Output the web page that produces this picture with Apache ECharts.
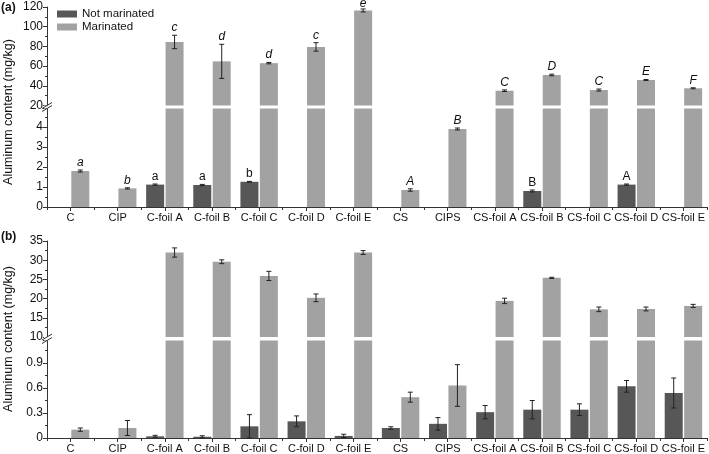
<!DOCTYPE html>
<html><head><meta charset="utf-8">
<script src="https://cdn.jsdelivr.net/npm/echarts@6/dist/echarts.min.js"></script>
<style>html,body{margin:0;padding:0;background:#fff}#c{width:709px;height:454px}</style>
</head><body><div id="c"></div><script>
const categories = ['C','CIP','C-foil A','C-foil B','C-foil C','C-foil D','C-foil E','CS','CIPS','CS-foil A','CS-foil B','CS-foil C','CS-foil D','CS-foil E'];
const seriesNames = ['Not marinated','Marinated'];
// Panel (a)
const aNotMar      = [null,null,1.12,1.1,1.26,null,null,null,null,null,0.8,null,1.12,null];
const aNotMarErr   = [null,null,0.03,0.03,0.02,null,null,null,null,null,0.05,null,0.03,null];
const aMar         = [1.8,0.93,84.5,64.8,63,79.5,116.5,0.85,3.9,35,51,35.7,45.9,37.5];
const aMarErr      = [0.05,0.03,6.8,17.3,0.7,4.3,1.5,0.06,0.05,0.8,0.8,1,0.5,0.5];
const aNotMarLetters = ['','','a','a','b','','','','','','B','','A',''];
const aMarLetters    = ['a','b','c','d','d','c','e','A','B','C','D','C','E','F'];
// Panel (b)
const bNotMar    = [null,null,0.02,0.015,0.14,0.2,0.025,0.12,0.17,0.31,0.34,0.34,0.62,0.54];
const bNotMarErr = [null,null,0.012,0.012,0.14,0.065,0.02,0.015,0.075,0.08,0.11,0.07,0.07,0.18];
const bMar       = [0.1,0.12,32,29.6,25.9,20.2,32,0.49,0.63,19.4,25.4,17.2,17.3,18.1];
const bMarErr    = [0.02,0.09,1.2,0.5,1.2,1.0,0.5,0.06,0.25,0.7,0.15,0.6,0.5,0.4];
// Axis segments (broken axes): [min, max, interval]
const aUpperAxis = [20, 120, 20];
const aLowerAxis = [0, 4.925, 1];
const bUpperAxis = [10, 35, 5];
const bLowerAxis = [0, 1.17, 0.3];
const yTitle = 'Aluminum content (mg/kg)';
const panelLabels = ['(a)', '(b)'];

const FONT = 'Liberation Sans, Arial, sans-serif';
const DARK = '#575757', LIGHT = '#a2a2a2', AXIS = '#333';
const BAR_W = 18, BAR_GAP = '8%';
const OFFSET = BAR_W / 2 + BAR_W * 0.04;

const grids = [
  {left: 47, width: 660, top: 7, height: 98.5},
  {left: 47, width: 660, top: 108.5, height: 98.5},
  {left: 47, width: 660, top: 241, height: 96},
  {left: 47, width: 660, top: 340.5, height: 97.5}
];
function xAx(g, show) {
  return {type: 'category', gridIndex: g, data: categories, show: show,
    axisLine: {show: true, lineStyle: {color: AXIS}},
    axisTick: {show: true, alignWithLabel: true, length: 4, lineStyle: {color: AXIS}},
    axisLabel: {fontSize: 11, color: '#111', margin: 5, fontFamily: FONT, interval: 0}};
}
function xAxB(g) {
  return {type: 'category', gridIndex: g, data: categories, position: 'bottom',
    axisLine: {show: false}, axisLabel: {show: false},
    axisTick: {show: true, alignWithLabel: false, length: 3, interval: 0, lineStyle: {color: AXIS}}};
}
function yAx(g, r) {
  return {type: 'value', gridIndex: g, min: r[0], max: r[1], interval: r[2],
    splitLine: {show: false},
    axisLine: {show: true, lineStyle: {color: AXIS}},
    axisTick: {show: true, length: 4, lineStyle: {color: AXIS}},
    minorTick: {show: true, splitNumber: 2, length: 2, lineStyle: {color: AXIS}},
    axisLabel: {fontSize: 12, color: '#111', margin: 4, fontFamily: FONT, showMaxLabel: r[1] % r[2] === 0}};
}
const ranges = [aUpperAxis, aLowerAxis, bUpperAxis, bLowerAxis];

function bar(name, g, vals, color) {
  return {type: 'bar', name: name, xAxisIndex: g, yAxisIndex: g, data: vals,
    barWidth: BAR_W, barGap: BAR_GAP, itemStyle: {color: color}, clip: true, animation: false};
}
function errSeries(g, vals, errs, letters, side, italic) {
  const r = ranges[g];
  const data = vals.map((v, i) => [i, v == null ? NaN : v, errs[i] == null ? 0 : errs[i], letters ? letters[i] : '']);
  return {type: 'custom', xAxisIndex: g, yAxisIndex: g, data: data, animation: false, silent: true, z: 5,
    renderItem: function (params, api) {
      const i = api.value(0), v = api.value(1), e = api.value(2);
      if (isNaN(v) || v < r[0] || v > r[1]) return null;
      const lab = data[params.dataIndex][3];
      const top = api.coord([i, v + e]);
      const bot = api.coord([i, Math.max(v - e, r[0])]);
      const x = top[0] + side * OFFSET;
      const children = [];
      if (e > 0) {
        const sty = {stroke: '#222', lineWidth: 1};
        children.push({type: 'line', shape: {x1: x, y1: top[1], x2: x, y2: bot[1]}, style: sty});
        children.push({type: 'line', shape: {x1: x - 2.5, y1: top[1], x2: x + 2.5, y2: top[1]}, style: sty});
        if (v - e >= r[0]) children.push({type: 'line', shape: {x1: x - 2.5, y1: bot[1], x2: x + 2.5, y2: bot[1]}, style: sty});
      }
      if (lab) {
        children.push({type: 'text', x: x, y: Math.max(top[1] - 1.5, 10), style: {text: lab, fill: '#111',
          font: (italic ? 'italic ' : '') + '12px ' + FONT, align: 'center', verticalAlign: 'bottom'}});
      }
      return {type: 'group', children: children};
    }};
}

const series = [];
const panels = [
  {g: [0, 1], nm: aNotMar, nmE: aNotMarErr, m: aMar, mE: aMarErr, nmL: aNotMarLetters, mL: aMarLetters},
  {g: [2, 3], nm: bNotMar, nmE: bNotMarErr, m: bMar, mE: bMarErr, nmL: null, mL: null}
];
panels.forEach(p => {
  p.g.forEach(g => {
    series.push(bar(seriesNames[0], g, p.nm, DARK));
    series.push(bar(seriesNames[1], g, p.m, LIGHT));
    series.push(errSeries(g, p.nm, p.nmE, p.nmL, -1, false));
    series.push(errSeries(g, p.m, p.mE, p.mL, 1, true));
  });
});

function breakMark(yTopGap, yBotGap) {
  return [
    {type: 'rect', shape: {x: 44, y: yTopGap, width: 6, height: yBotGap - yTopGap}, style: {fill: '#fff'}, z: 100},
    {type: 'line', shape: {x1: 42, y1: yTopGap + 3, x2: 52, y2: yTopGap - 3}, style: {stroke: AXIS, lineWidth: 1}, z: 101},
    {type: 'line', shape: {x1: 42, y1: yBotGap + 3, x2: 52, y2: yBotGap - 3}, style: {stroke: AXIS, lineWidth: 1}, z: 101}
  ];
}

const chart = echarts.init(document.getElementById('c'), null, {renderer: 'canvas'});
chart.setOption({
  animation: false,
  backgroundColor: '#fff',
  grid: grids,
  xAxis: [xAx(0, false), xAx(1, true), xAx(2, false), xAx(3, true), xAxB(1), xAxB(3)],
  yAxis: ranges.map((r, g) => yAx(g, r)),
  legend: {data: seriesNames, orient: 'vertical', left: 57, top: 8, padding: 0, itemWidth: 20, itemHeight: 7, itemGap: 1,
    icon: 'rect', textStyle: {fontSize: 11.5, color: '#111', fontFamily: FONT}, selectedMode: false},
  series: series,
  graphic: [
    {type: 'text', x: 1, y: 2, style: {text: panelLabels[0], font: 'bold 12px ' + FONT, fill: '#111'}},
    {type: 'text', x: 1, y: 231, style: {text: panelLabels[1], font: 'bold 12px ' + FONT, fill: '#111'}},
    {type: 'text', x: 9, y: 112, rotation: Math.PI / 2, style: {text: yTitle, font: '12.5px ' + FONT, fill: '#111', align: 'center', verticalAlign: 'middle'}},
    {type: 'text', x: 9, y: 339, rotation: Math.PI / 2, style: {text: yTitle, font: '12.5px ' + FONT, fill: '#111', align: 'center', verticalAlign: 'middle'}}
  ].concat(breakMark(105.5, 108.5), breakMark(337, 340.5))
});
</script></body></html>
